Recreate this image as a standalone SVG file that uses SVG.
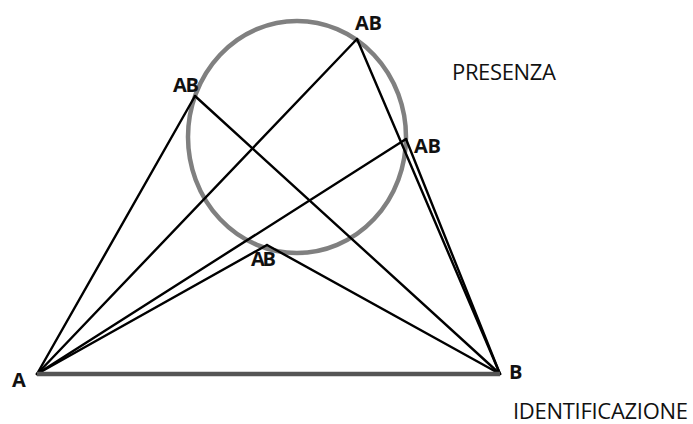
<svg xmlns="http://www.w3.org/2000/svg" width="693" height="424" viewBox="0 0 693 424">
<style>
.ln{stroke:#000;stroke-width:2.4;fill:none;stroke-linecap:round}
.lb{font-family:"Open Sans","DejaVu Sans",sans-serif;font-weight:bold;font-size:20px;fill:#111}
.tx{font-family:"Open Sans","DejaVu Sans",sans-serif;font-size:22px;fill:#111}
</style>
<rect width="693" height="424" fill="#fff"/>
<g id="circle-presenza">
<ellipse cx="297" cy="137" rx="109" ry="116" fill="none" stroke="#808080" stroke-width="4.5"/>
</g>
<g id="connectors">
<line class="ln" x1="37" y1="374" x2="357" y2="39"/>
<line class="ln" x1="37" y1="374" x2="195" y2="96"/>
<line class="ln" x1="37" y1="374" x2="406" y2="139"/>
<line class="ln" x1="37" y1="374" x2="267" y2="245"/>
<line class="ln" x1="500" y1="374" x2="357" y2="39"/>
<line class="ln" x1="500" y1="374" x2="195" y2="96"/>
<line class="ln" x1="500" y1="374" x2="406" y2="139"/>
<line class="ln" x1="500" y1="374" x2="267" y2="245"/>
<line x1="37" y1="374" x2="500" y2="374" stroke="#555" stroke-width="4.5"/>
</g>
<g id="node-A"><text class="lb" x="12" y="387">A</text></g>
<g id="node-B"><text class="lb" x="509" y="379">B</text></g>
<g id="node-AB-top"><text class="lb" x="355" y="30" textLength="27">AB</text></g>
<g id="node-AB-left"><text class="lb" x="173" y="92" textLength="26">AB</text></g>
<g id="node-AB-right"><text class="lb" x="414" y="153" textLength="27">AB</text></g>
<g id="node-AB-bottom"><text class="lb" x="251" y="266" textLength="25">AB</text></g>
<g id="label-presenza"><text class="tx" x="452" y="80" textLength="104">PRESENZA</text></g>
<g id="label-identificazione"><text class="tx" x="513" y="419" textLength="175">IDENTIFICAZIONE</text></g>
</svg>
